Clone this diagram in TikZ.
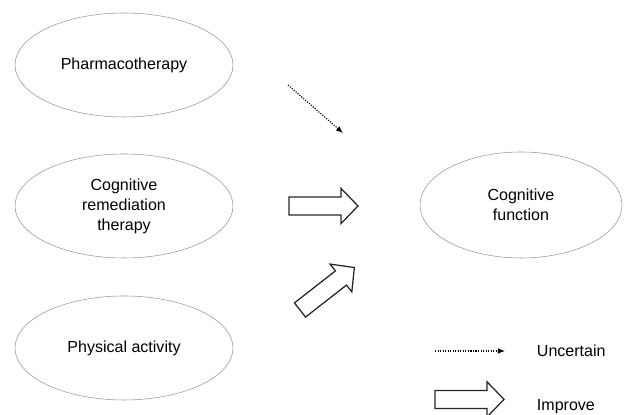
\documentclass[tikz,border=0pt]{standalone}
\usepackage{fontspec}
\setmainfont{Liberation Sans}
\usetikzlibrary{shapes.geometric,arrows.meta}

\tikzset{
  factor/.style={ellipse,draw=gray!80,thin,minimum width=5.45cm,minimum height=2.6cm,align=center,
    font=\fontsize{11.4}{14.2}\selectfont},
  fatarrow/.pic={
    \draw[line width=0.9pt,draw=black!85,fill=white] (0,-0.225) -- (1.3,-0.225) -- (1.3,-0.44)
      -- (1.725,0) -- (1.3,0.44) -- (1.3,0.225) -- (0,0.225) -- cycle;
  },
  uncertain/.style={densely dotted,line width=0.8pt,-{Latex[length=5pt,width=4pt]}}
}

\begin{document}
\begin{tikzpicture}
\useasboundingbox (0,0) rectangle (15.725,10.375);

% interventions
\node[factor] (pharma) at (3.1,8.75) {Pharmacotherapy};
\node[factor] (crt) at (3.1,5.225) {Cognitive\\remediation\\therapy};
\node[factor] (phys) at (3.1,1.675) {Physical activity};

% outcome
\node[factor,minimum width=5.05cm,minimum height=2.65cm] (cogfun) at (13.025,5.25) {Cognitive\\function};

% effects
\coordinate (u1) at (7.2,8.25);
\coordinate (u2) at (8.575,7.05);
\draw[uncertain] (u1) -- (u2);
\pic at (7.225,5.225) {fatarrow};
\pic[rotate=38] at (7.5,2.625) {fatarrow};

% legend
\coordinate (l1) at (10.875,1.6);
\coordinate (l2) at (12.625,1.6);
\draw[uncertain] (l1) -- (l2);
\node[anchor=west,font=\fontsize{11.4}{14.2}\selectfont] (lunc) at (13.3,1.6) {Uncertain};
\pic at (10.875,0.39) {fatarrow};
\node[anchor=west,font=\fontsize{11.4}{14.2}\selectfont] (limp) at (13.3,0.2) {Improve};

\end{tikzpicture}
\end{document}
